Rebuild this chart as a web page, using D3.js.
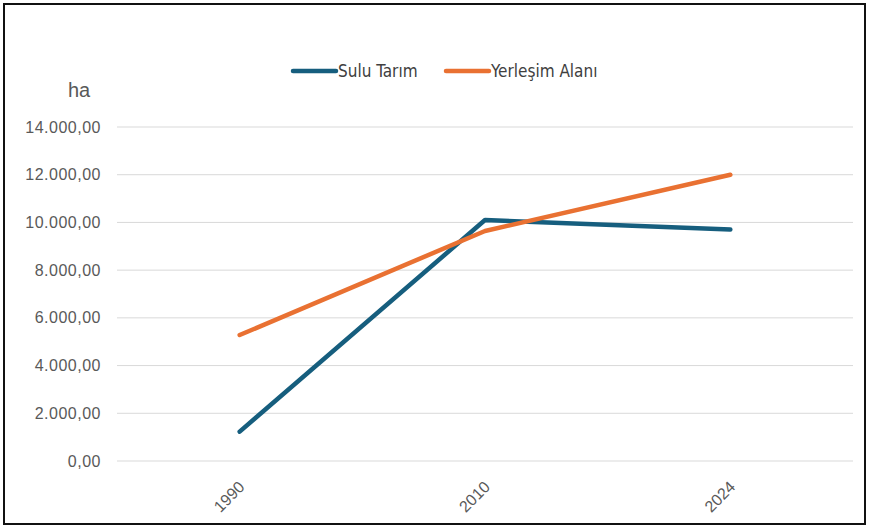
<!DOCTYPE html>
<html>
<head>
<meta charset="utf-8">
<script src="https://cdn.jsdelivr.net/npm/d3@7"></script>
<style>
body { margin: 0; background: #fff; }
</style>
</head>
<body>
<script>
let years = ["1990", "2010", "2024"];
let suluTarim = [1230, 10100, 9700];
let yerlesim = [5280, 9640, 12000];
let yTicks = [0, 2000, 4000, 6000, 8000, 10000, 12000, 14000];
let seriesNames = ["Sulu Tarım", "Yerleşim Alanı"];
let colors = ["#165e7e", "#e97132"];

let width = 869, height = 528;
let svg = d3.select("body").append("svg")
	.attr("width", width)
	.attr("height", height);

// outer frame
svg.append("rect")
	.attr("x", 4).attr("y", 4)
	.attr("width", 861).attr("height", 520)
	.attr("fill", "#fff")
	.attr("stroke", "#111")
	.attr("stroke-width", 2);

let plotLeft = 117, plotRight = 853, plotTop = 127, plotBottom = 461;

let x = d3.scaleBand()
	.domain(years)
	.range([plotLeft, plotRight]);

let y = d3.scaleLinear()
	.domain([0, 14000])
	.range([plotBottom, plotTop]);

let fmt = v => d3.format(",.2f")(v).replace(/,/g, "#").replace(".", ",").replace(/#/g, ".");

// gridlines + y labels
yTicks.forEach(t => {
	svg.append("line")
	.attr("x1", plotLeft).attr("x2", plotRight)
	.attr("y1", y(t)).attr("y2", y(t))
	.attr("stroke", "#d9d9d9")
	.attr("stroke-width", 1);

	svg.append("text")
	.attr("x", 101)
	.attr("y", y(t))
	.attr("dy", "0.35em")
	.attr("text-anchor", "end")
	.attr("font-family", "Liberation Sans, Arial, sans-serif")
	.attr("font-size", 16)
	.attr("letter-spacing", 0.5)
	.attr("fill", "#595959")
	.text(fmt(t));
});

// x labels
years.forEach(yr => {
	let cx = x(yr) + x.bandwidth() / 2;
	svg.append("text")
	.attr("transform", `translate(${cx + 6},${488}) rotate(-45)`)
	.attr("text-anchor", "end")
	.attr("font-family", "Liberation Sans, Arial, sans-serif")
	.attr("font-size", 16)
	.attr("fill", "#595959")
	.text(yr);
});

// unit label
svg.append("text")
	.attr("x", 68).attr("y", 97)
	.attr("font-family", "Liberation Sans, Arial, sans-serif")
	.attr("font-size", 20)
	.attr("fill", "#595959")
	.text("ha");

let line = d3.line()
	.x((d, i) => x(years[i]) + x.bandwidth() / 2)
	.y(d => y(d));

[suluTarim, yerlesim].forEach((s, i) => {
	svg.append("path")
	.datum(s)
	.attr("d", line)
	.attr("fill", "none")
	.attr("stroke", colors[i])
	.attr("stroke-width", 4.5)
	.attr("stroke-linecap", "round")
	.attr("stroke-linejoin", "round");
});

// legend
let legendX = [293, 446];
seriesNames.forEach((n, i) => {
	svg.append("line")
	.attr("x1", legendX[i]).attr("x2", legendX[i] + 43)
	.attr("y1", 71).attr("y2", 71)
	.attr("stroke", colors[i])
	.attr("stroke-width", 4.5)
	.attr("stroke-linecap", "round");

	svg.append("text")
	.attr("x", legendX[i] + 45)
	.attr("y", 71)
	.attr("dy", "0.35em")
	.attr("font-family", "Liberation Sans Narrow, DejaVu Sans Condensed, sans-serif")
	.attr("font-size", 17)
	.attr("fill", "#404040")
	.text(n);
});
</script>
</body>
</html>
